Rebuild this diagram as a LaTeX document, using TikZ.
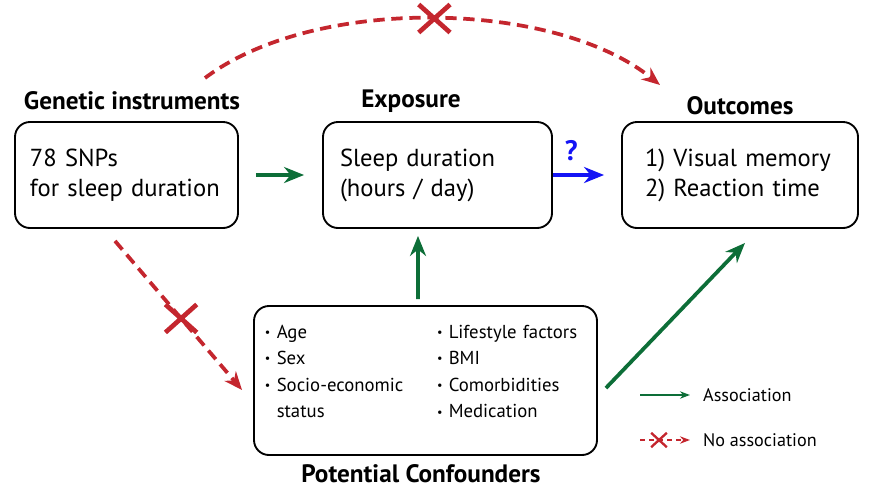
\documentclass[tikz,border=0pt]{standalone}
\usepackage{fontspec}
\setmainfont{PT Sans}
\usetikzlibrary{positioning,arrows.meta,shapes.misc}
\definecolor{assocgreen}{HTML}{0D6E38}
\definecolor{noassocred}{HTML}{C4262E}
\definecolor{qblue}{HTML}{1414F5}
\newcommand{\cbullet}{\raisebox{0.18ex}{\scalebox{0.65}{\textbullet}}\ }

\begin{document}
\begin{tikzpicture}[
    x=0.03cm, y=-0.03cm,
    box/.style={rectangle, rounded corners=0.45cm, draw, line width=1.6pt,
                minimum height=3.18cm, align=left, text width=#1,
                font=\fontsize{21}{25.6}\selectfont},
    lbl/.style={font=\fontsize{21.5}{24}\selectfont\bfseries},
    legtxt/.style={font=\fontsize{15.5}{18}\selectfont, anchor=west},
    assoc/.style={draw=assocgreen, line width=3.2pt,
                  -{Stealth[length=0.6cm, width=0.48cm]}},
    noassoc/.style={draw=noassocred, line width=3.2pt,
                    dash pattern=on 0.34cm off 0.2cm,
                    -{Stealth[length=0.55cm, width=0.45cm]}},
    xmark/.style={cross out, draw=noassocred, solid, line width=4pt,
                  minimum width=0.8cm, minimum height=0.7cm, inner sep=0pt}
]
\useasboundingbox (0,0) rectangle (869,490);

% Top row: instruments -> exposure -> outcomes
\node[box=5.79cm, inner xsep=0.45cm] (snps) at (126.5,175)
    {78 SNPs\\for sleep duration};
\node[box=5.85cm, inner xsep=0.51cm] (expo) at (437.5,175)
    {Sleep duration\\(hours / day)};
\node[box=5.7cm, inner xsep=0.69cm] (outc) at (740,175)
    {1) Visual memory\\2) Reaction time};

\node[lbl] (gtitle) at (132,101) {Genetic instruments};
\node[lbl] (etitle) at (411,101) {Exposure};
\node[lbl] (otitle) at (740,106) {Outcomes};

% Bottom: confounders
\node[rectangle, rounded corners=0.45cm, draw, line width=1.6pt,
      text width=9.63cm, inner xsep=0.33cm, inner ysep=0.3cm,
      text height=0.66cm, text depth=3.21cm, align=left,
      font=\fontsize{16}{22.7}\selectfont] (conf) at (425.5,380.5)
    {\begin{tabular}[t]{@{}p{5.16cm}@{}l@{}}
     \cbullet Age & \cbullet Lifestyle factors\\
     \cbullet Sex & \cbullet BMI\\
     \cbullet Socio-economic & \cbullet Comorbidities\\
     \phantom{\cbullet}status & \cbullet Medication
     \end{tabular}};
\node[lbl, anchor=base, inner sep=0pt] (ctitle) at (421,482) {Potential Confounders};

% Connectors
\draw[assoc, shorten <=0.51cm, shorten >=0.54cm] (snps) -- (expo);
\draw[draw=qblue, line width=3.2pt, -{Stealth[length=0.6cm, width=0.48cm]},
      shorten >=0.51cm] (expo.east) -- (outc.west)
    node[pos=0.27, above=0.25cm, text=qblue,
         font=\fontsize{24}{24}\selectfont\bfseries] (qmark) {?};
\draw[assoc, shorten <=0.18cm, shorten >=0.21cm]
    ([xshift=-0.225cm]conf.north) -- ([xshift=-0.585cm]expo.south);
\draw[assoc] ([xshift=0.24cm, yshift=-0.225cm]conf.east)
    -- ([xshift=0.15cm, yshift=-0.42cm]outc.south);
\draw[noassoc] ([xshift=2.19cm, yshift=0.69cm]gtitle.center)
    .. controls (315,-5) and (555,0) ..
    ([xshift=-2.4cm, yshift=0.63cm]otitle.center)
    node[xmark, pos=0.5] (xtop) {};
\draw[noassoc] ([xshift=-0.345cm, yshift=-0.36cm]snps.south)
    -- ([xshift=-0.33cm, yshift=-0.285cm]conf.west)
    node[xmark, pos=0.52] (xleft) {};

% Legend
\node[legtxt] (assoclbl) at (699,395) {Association};
\node[legtxt] (noassoclbl) at (699,440) {No association};
\draw[draw=assocgreen, line width=1.4pt, -{Stealth[length=0.3cm, width=0.22cm]}]
    ([xshift=-1.77cm]assoclbl.west) -- ([xshift=-0.27cm]assoclbl.west);
\draw[draw=noassocred, line width=1.4pt, dash pattern=on 0.15cm off 0.12cm,
      -{Stealth[length=0.3cm, width=0.22cm]}]
    ([xshift=-1.77cm]noassoclbl.west) -- ([xshift=-0.27cm]noassoclbl.west)
    node[xmark, pos=0.38, line width=2pt, minimum width=0.4cm,
         minimum height=0.36cm] (xleg) {};

\end{tikzpicture}
\end{document}
